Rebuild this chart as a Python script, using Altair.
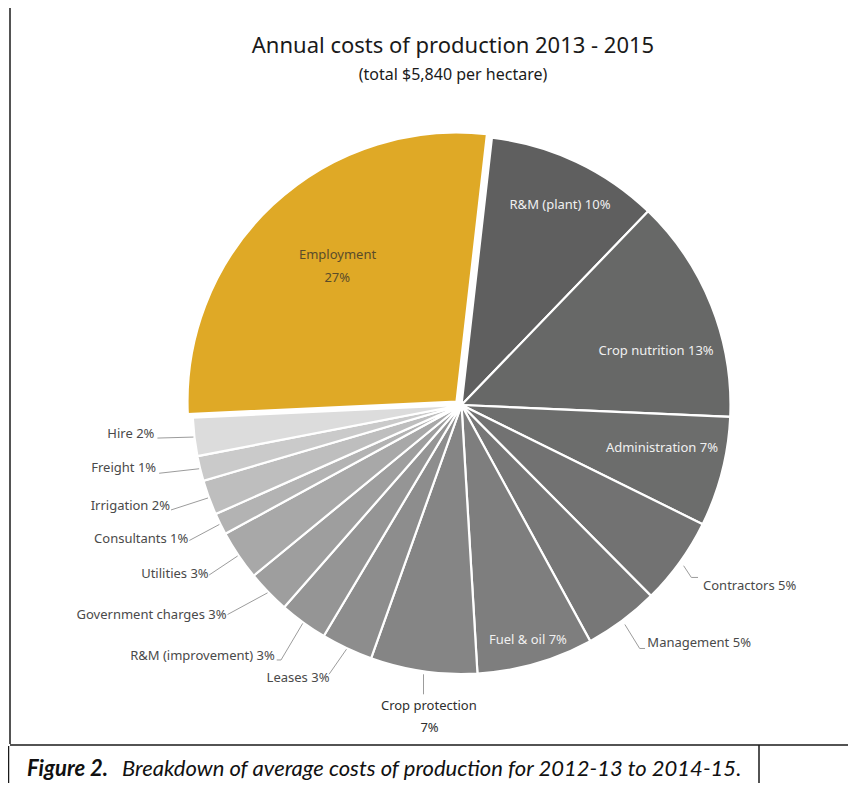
import math
import altair as alt
import pandas as pd

# ---------------- data ----------------
categories = ["R&M (plant)", "Crop nutrition", "Administration", "Contractors", "Management",
              "Fuel & oil", "Crop protection", "Leases", "R&M (improvement)", "Government charges",
              "Utilities", "Consultants", "Irrigation", "Freight", "Hire", "Employment"]
shares = [10.4, 13.5, 6.6, 5.25, 4.5, 7.0, 6.4, 3.1, 2.9, 2.6, 3.0, 1.3, 2.1, 1.5, 2.3, 27.55]
pct_labels = [10, 13, 7, 5, 5, 7, 7, 3, 3, 3, 3, 1, 2, 1, 2, 27]
slice_colors = ["#5f5f5f", "#676867", "#6c6d6c", "#727272", "#777777", "#7e7e7e", "#858585",
                "#8d8d8d", "#959595", "#9e9e9e", "#a8a8a8", "#b3b3b3", "#bebebe", "#cacaca",
                "#dcdcdc", "#dfa926"]

title_text = "Annual costs of production 2013 - 2015"
subtitle_text = "(total $5,840 per hectare)"
caption_bold = "Figure 2."
caption_text = "Breakdown of average costs of production for 2012-13 to 2014-15."

# ---------------- layout ----------------
W, H = 840, 775
CX, CY = 453.5, 397.0
R = 269
START_DEG = 6.5
EXPLODE = (-5.0, -3.5)
FONT = "Noto Sans"

# inside labels: (radius, angle shift from slice middle)
inside_layout = {"R&M (plant)": (223, 1.0), "Crop nutrition": (202, 6.2),
                 "Administration": (205, -2.3), "Fuel & oil": (244, 0.2)}
# outside labels: leader points and text anchor, as offsets from the slice's outer middle
outside_layout = {
    "Hire": dict(line=[(0, 0), (-36, 1)], text=(-39, -3), align="right"),
    "Freight": dict(line=[(0, 0), (-40, 4.5)], text=(-43, -0.5), align="right"),
    "Irrigation": dict(line=[(0, 0), (-37, 12)], text=(-38, 8), align="right"),
    "Consultants": dict(line=[(0, 0), (-30, 16)], text=(-31, 14.6), align="right"),
    "Utilities": dict(line=[(0, 0), (-28.5, 19)], text=(-29, 18), align="right"),
    "Government charges": dict(line=[(0, 0), (-40, 21.7)], text=(-41, 21.7), align="right"),
    "R&M (improvement)": dict(line=[(0, 0), (-21.7, 36.6), (-26, 36.6)], text=(-28, 33), align="right"),
    "Leases": dict(line=[(0, 0), (-17.4, 25)], text=(-17, 28.4), align="right"),
    "Management": dict(line=[(2, 3), (16.8, 27), (22.2, 27)], text=(24.5, 22), align="left"),
    "Contractors": dict(line=[(3, 3), (10.7, 14.7), (17.4, 14.7)], text=(22.4, 23), align="left"),
}


def polar(angle_deg, r, cx=CX, cy=CY):
    a = math.radians(angle_deg)
    return cx + r * math.sin(a), cy - r * math.cos(a)


total = sum(shares)
mids = {}
cum = 0.0
for c, s in zip(categories, shares):
    a0 = START_DEG + cum / total * 360
    mids[c] = a0 + s / total * 180
    cum += s

slices = pd.DataFrame({"category": categories, "share": shares,
                       "idx": list(range(len(categories)))})

# labels
inside_rows, right_rows, left_rows, center_rows, lead_rows = [], [], [], [], []
for c, p in zip(categories, pct_labels):
    if c in inside_layout:
        r, sh = inside_layout[c]
        x, y = polar(mids[c] + sh, r)
        inside_rows.append({"t": f"{c} {p}%", "px": x, "py": y})
    elif c in outside_layout:
        lay = outside_layout[c]
        sx, sy = polar(mids[c], R + 1)
        for k, (dx, dy) in enumerate(lay["line"]):
            lead_rows.append({"lab": c, "k": k, "px": sx + dx, "py": sy + dy})
        row = {"t": f"{c} {p}%", "px": sx + lay["text"][0], "py": sy + lay["text"][1]}
        (right_rows if lay["align"] == "right" else left_rows).append(row)
    elif c == "Crop protection":
        sx, sy = polar(mids[c], R)
        lead_rows.append({"lab": c, "k": 0, "px": sx, "py": sy + 3})
        lead_rows.append({"lab": c, "k": 1, "px": sx, "py": sy + 23})
        center_rows.append({"t": c, "px": sx + 5.3, "py": sy + 34.5})
        center_rows.append({"t": f"{p}%", "px": sx + 6, "py": sy + 56.5})
    elif c == "Employment":
        ecx, ecy = CX + EXPLODE[0], CY + EXPLODE[1]
        x1, y1 = polar(mids[c] + 4.1, 189, ecx, ecy)
        x2, y2 = polar(mids[c] - 0.8, 172, ecx, ecy)
        emp_rows = [{"t": c, "px": x1, "py": y1}, {"t": f"{p}%", "px": x2, "py": y2}]

xs = alt.Scale(domain=[0, W], range=[0, W])
ys = alt.Scale(domain=[0, H], range=[0, H])
X = alt.X("px:Q", scale=xs, axis=None)
Y = alt.Y("py:Q", scale=ys, axis=None)

theta = alt.Theta("share:Q", stack=True,
                  scale=alt.Scale(range=[math.radians(START_DEG), math.radians(START_DEG) + 2 * math.pi]))
color = alt.Color("category:N", scale=alt.Scale(domain=categories, range=slice_colors), legend=None)
order = alt.Order("idx:Q", sort="ascending")

pie_main = alt.Chart(slices).mark_arc(outerRadius=R, stroke="white", strokeWidth=2.2).encode(
    theta=theta, color=color, order=order,
    x=alt.value(CX), y=alt.value(CY),
    opacity=alt.condition(alt.datum.category == "Employment", alt.value(0), alt.value(1)),
)
pie_emp = alt.Chart(slices).mark_arc(outerRadius=R, stroke="white", strokeWidth=2.2).encode(
    theta=theta, color=color, order=order,
    x=alt.value(CX + EXPLODE[0]), y=alt.value(CY + EXPLODE[1]),
    opacity=alt.condition(alt.datum.category == "Employment", alt.value(1), alt.value(0)),
)

leaders = alt.Chart(pd.DataFrame(lead_rows)).mark_line(color="#9c9c9c", strokeWidth=1).encode(
    x=X, y=Y, detail="lab:N", order="k:Q")

def text_layer(rows, align, col, size=13):
    return alt.Chart(pd.DataFrame(rows)).mark_text(
        align=align, baseline="middle", font=FONT, fontSize=size, color=col).encode(
        x=X, y=Y, text="t:N")

t_inside = text_layer(inside_rows, "center", "#f0f0f0")
t_emp = text_layer(emp_rows, "center", "#5a4c2a")
t_right = text_layer(right_rows, "right", "#4a4a4a")
t_left = text_layer(left_rows, "left", "#4a4a4a")
t_center = text_layer(center_rows, "center", "#2e2e2e")

one = pd.DataFrame({"a": [0]})
title = alt.Chart(one).mark_text(align="center", baseline="alphabetic", font=FONT, fontSize=22,
                                 color="#1a1a1a").encode(
    x=alt.value(445), y=alt.value(45), text=alt.value(title_text))
subtitle = alt.Chart(one).mark_text(align="center", baseline="alphabetic", font=FONT, fontSize=16,
                                    color="#1a1a1a").encode(
    x=alt.value(445), y=alt.value(72), text=alt.value(subtitle_text))
cap1 = alt.Chart(one).mark_text(align="left", baseline="alphabetic", font="Lato", fontSize=22,
                                fontStyle="italic", fontWeight="bold", color="#111111").encode(
    x=alt.value(19), y=alt.value(768), text=alt.value(caption_bold))
cap2 = alt.Chart(one).mark_text(align="left", baseline="alphabetic", font="Lato", fontSize=22,
                                fontStyle="italic", color="#111111").encode(
    x=alt.value(114), y=alt.value(768), text=alt.value(caption_text))

def vrule(x, y1, y2):
    return alt.Chart(one).mark_rule(color="#1a1a1a", strokeWidth=1.5).encode(
        x=alt.value(x), y=alt.value(y1), y2=alt.value(y2))

frame = [
    vrule(2, 0, 736),
    alt.Chart(one).mark_rule(color="#1a1a1a", strokeWidth=1.5).encode(
        x=alt.value(2), x2=alt.value(W), y=alt.value(737)),
    vrule(0.5, 738, H),
    vrule(751, 737, H),
]

chart = alt.layer(pie_main, pie_emp, leaders, t_inside, t_emp, t_right, t_left, t_center,
                  title, subtitle, cap1, cap2, *frame).properties(
    width=W, height=H, autosize=alt.AutoSizeParams(type="none"), padding=0
).configure_view(stroke=None)

chart.save("out.html", embed_options={"renderer": "svg", "actions": False})
